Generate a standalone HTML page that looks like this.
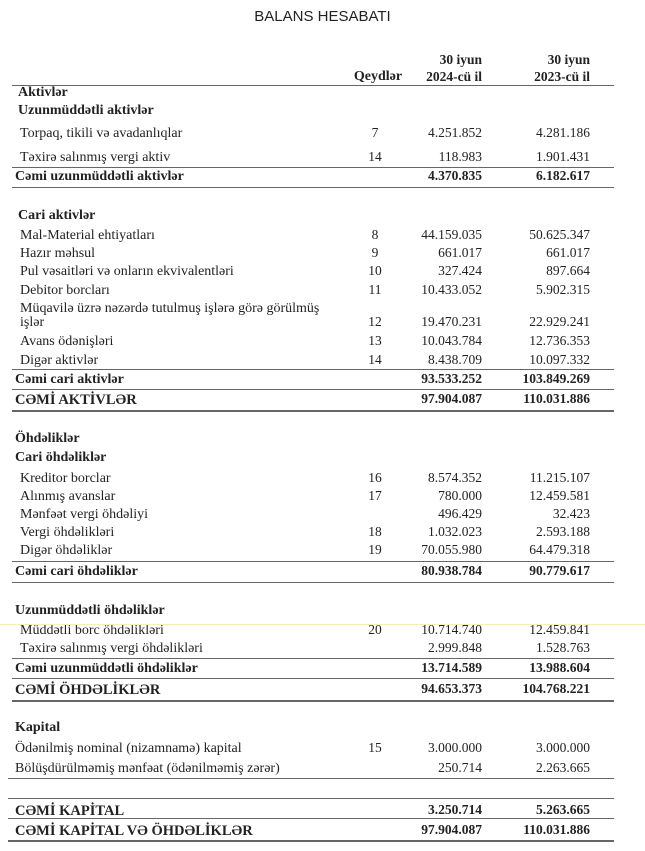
<!DOCTYPE html>
<html><head><meta charset="utf-8"><style>
body{margin:0;width:645px;height:851px;background:#fff;position:relative;overflow:hidden;font-family:"Liberation Serif",serif;font-size:13px;color:#222}
.r{position:absolute;left:0;width:645px;height:16px;line-height:16px}
.l{position:absolute;left:20px;white-space:nowrap;font-size:14px;top:1px}
.n{position:absolute;left:345px;width:60px;text-align:center;font-size:13.5px}
.a{position:absolute;right:163px;text-align:right;font-size:13.5px}
.b{position:absolute;right:55px;text-align:right;font-size:13.5px}
.bo{font-weight:bold}
.c .l{font-size:14.5px}
.h{position:absolute;left:12px;height:0;border-top:1.5px solid #666}
.tt{position:absolute;top:8px;width:645px;text-align:center;font-family:"Liberation Sans",sans-serif;font-size:15px;color:#222}
</style></head><body>
<div class="tt">BALANS HESABATI</div>
<div class="r bo" style="top:52px"><span class="a">30 iyun</span><span class="b">30 iyun</span></div>
<div class="r bo" style="top:69px"><span class="n" style="left:348px;font-size:14px">Qeydlər</span><span class="a">2024-cü il</span><span class="b">2023-cü il</span></div>
<div class="h" style="top:85px;width:602px"></div>
<div class="r bo" style="top:84px"><span class="l" style="left:18px">Aktivlər</span></div>
<div class="r bo" style="top:102px"><span class="l" style="left:18px">Uzunmüddətli aktivlər</span></div>
<div class="r" style="top:125px"><span class="l">Torpaq, tikili və avadanlıqlar</span><span class="n">7</span><span class="a">4.251.852</span><span class="b">4.281.186</span></div>
<div class="r" style="top:149px"><span class="l">Təxirə salınmış vergi aktiv</span><span class="n">14</span><span class="a">118.983</span><span class="b">1.901.431</span></div>
<div class="h" style="top:167px;width:602px"></div>
<div class="r bo" style="top:168px"><span class="l" style="left:15px">Cəmi uzunmüddətli aktivlər</span><span class="a">4.370.835</span><span class="b">6.182.617</span></div>
<div class="h" style="top:187px;width:602px"></div>

<div class="r bo" style="top:207px"><span class="l" style="left:18px">Cari aktivlər</span></div>
<div class="r" style="top:227px"><span class="l">Mal-Material ehtiyatları</span><span class="n">8</span><span class="a">44.159.035</span><span class="b">50.625.347</span></div>
<div class="r" style="top:245px"><span class="l">Hazır məhsul</span><span class="n">9</span><span class="a">661.017</span><span class="b">661.017</span></div>
<div class="r" style="top:263px"><span class="l">Pul vəsaitləri və onların ekvivalentləri</span><span class="n">10</span><span class="a">327.424</span><span class="b">897.664</span></div>
<div class="r" style="top:282px"><span class="l">Debitor borcları</span><span class="n">11</span><span class="a">10.433.052</span><span class="b">5.902.315</span></div>
<div class="r" style="top:300px"><span class="l">Müqavilə üzrə nəzərdə tutulmuş işlərə görə görülmüş</span></div>
<div class="r" style="top:314px"><span class="l">işlər</span><span class="n">12</span><span class="a">19.470.231</span><span class="b">22.929.241</span></div>
<div class="r" style="top:333px"><span class="l">Avans ödənişləri</span><span class="n">13</span><span class="a">10.043.784</span><span class="b">12.736.353</span></div>
<div class="r" style="top:352px"><span class="l">Digər aktivlər</span><span class="n">14</span><span class="a">8.438.709</span><span class="b">10.097.332</span></div>
<div class="h" style="top:369px;width:602px"></div>
<div class="r bo" style="top:371px"><span class="l" style="left:15px">Cəmi cari aktivlər</span><span class="a">93.533.252</span><span class="b">103.849.269</span></div>
<div class="h" style="top:389px;width:602px"></div>
<div class="r bo c" style="top:391px"><span class="l" style="left:15px">CƏMİ AKTİVLƏR</span><span class="a">97.904.087</span><span class="b">110.031.886</span></div>
<div class="h" style="top:410px;width:602px;border-top-width:2px"></div>

<div class="r bo" style="top:430px"><span class="l" style="left:15px">Öhdəliklər</span></div>
<div class="r bo" style="top:449px"><span class="l" style="left:15px">Cari öhdəliklər</span></div>
<div class="r" style="top:470px"><span class="l">Kreditor borclar</span><span class="n">16</span><span class="a">8.574.352</span><span class="b">11.215.107</span></div>
<div class="r" style="top:488px"><span class="l">Alınmış avanslar</span><span class="n">17</span><span class="a">780.000</span><span class="b">12.459.581</span></div>
<div class="r" style="top:506px"><span class="l">Mənfəət vergi öhdəliyi</span><span class="a">496.429</span><span class="b">32.423</span></div>
<div class="r" style="top:524px"><span class="l">Vergi öhdəlikləri</span><span class="n">18</span><span class="a">1.032.023</span><span class="b">2.593.188</span></div>
<div class="r" style="top:542px"><span class="l">Digər öhdəliklər</span><span class="n">19</span><span class="a">70.055.980</span><span class="b">64.479.318</span></div>
<div class="h" style="top:561px;width:602px"></div>
<div class="r bo" style="top:563px"><span class="l" style="left:15px">Cəmi cari öhdəliklər</span><span class="a">80.938.784</span><span class="b">90.779.617</span></div>
<div class="h" style="top:582px;width:602px"></div>

<div class="r bo" style="top:602px"><span class="l" style="left:15px">Uzunmüddətli öhdəliklər</span></div>
<div class="r" style="top:622px"><span class="l">Müddətli borc öhdəlikləri</span><span class="n">20</span><span class="a">10.714.740</span><span class="b">12.459.841</span></div>
<div class="h" style="top:624px;left:0;width:645px;border-top:1px solid #f3f0b8"></div>
<div class="r" style="top:640px"><span class="l">Təxirə salınmış vergi öhdəlikləri</span><span class="a">2.999.848</span><span class="b">1.528.763</span></div>
<div class="h" style="top:658px;width:602px"></div>
<div class="r bo" style="top:660px"><span class="l" style="left:15px">Cəmi uzunmüddətli öhdəliklər</span><span class="a">13.714.589</span><span class="b">13.988.604</span></div>
<div class="h" style="top:678px;width:602px"></div>
<div class="r bo c" style="top:681px"><span class="l" style="left:15px">CƏMİ ÖHDƏLİKLƏR</span><span class="a">94.653.373</span><span class="b">104.768.221</span></div>
<div class="h" style="top:700px;width:602px;border-top-width:2px"></div>

<div class="r bo" style="top:719px"><span class="l" style="left:15px">Kapital</span></div>
<div class="r" style="top:740px"><span class="l" style="left:15px">Ödənilmiş nominal (nizamnamə) kapital</span><span class="n">15</span><span class="a">3.000.000</span><span class="b">3.000.000</span></div>
<div class="r" style="top:760px"><span class="l" style="left:15px">Bölüşdürülməmiş mənfəat (ödənilməmiş zərər)</span><span class="a">250.714</span><span class="b">2.263.665</span></div>
<div class="h" style="top:778px;left:8px;width:606px"></div>
<div class="h" style="top:798px;left:8px;width:606px"></div>
<div class="r bo c" style="top:802px"><span class="l" style="left:15px">CƏMİ KAPİTAL</span><span class="a">3.250.714</span><span class="b">5.263.665</span></div>
<div class="h" style="top:818px;left:8px;width:606px"></div>
<div class="r bo c" style="top:822px"><span class="l" style="left:15px">CƏMİ KAPİTAL VƏ ÖHDƏLİKLƏR</span><span class="a">97.904.087</span><span class="b">110.031.886</span></div>
<div class="h" style="top:840px;left:8px;width:606px;border-top-width:2px"></div>
</body></html>
